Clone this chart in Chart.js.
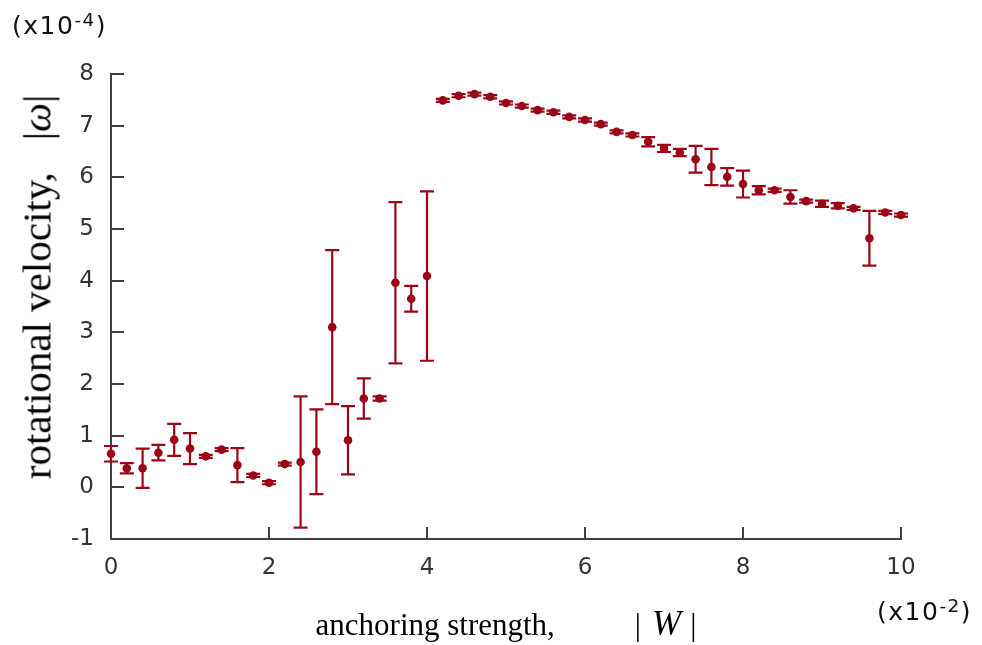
<!DOCTYPE html>
<html lang="en">
<head>
<meta charset="UTF-8">
<title>Rotational velocity vs anchoring strength</title>
<script src="https://cdn.jsdelivr.net/npm/chart.js"></script>
<style>
  body { margin: 0; background: #fff; }
  #wrap { position: relative; width: 982px; height: 645px; overflow: hidden; }
  #plot { position: absolute; left: 0; top: 0; }
  .mult { position: absolute; font-family: "DejaVu Sans", sans-serif; font-size: 25px; letter-spacing: 1.5px; line-height: 1; color: #111; white-space: nowrap; }
  .mult .sup { position: relative; top: -0.45em; font-size: 0.74em; }
  .title { position: absolute; font-family: "Liberation Serif", "Times New Roman", serif; line-height: 1; color: #000; white-space: nowrap; }
  #xTitle { left: 506px; top: 606px; font-size: 31px; transform: translateX(-50%); }
  #xTitle .abs { margin-left: 80px; }
  #xTitle .sym { font-size: 35px; margin: 0 9px 0 11px; }
  #yTitle { left: 37px; top: 287px; font-size: 41px; transform: translate(-50%, -50%) rotate(-90deg); }
  #yTitle .abs { margin-left: 32px; }
</style>
</head>
<body>
<div id="wrap">
  <canvas id="plot" width="982" height="645"></canvas>
  <div class="mult" style="left:12px; top:13px;">(x10<span class="sup">-4</span>)</div>
  <div class="mult" style="left:877px; top:599px;">(x10<span class="sup">-2</span>)</div>
  <div class="title" id="xTitle">anchoring strength,<span class="abs">|</span><i class="sym">W</i>|</div>
  <div class="title" id="yTitle">rotational velocity,<span class="abs">|<i>&omega;</i>|</span></div>
</div>

<script>
  // anchoring strength |W| (x10^-2), low-W branch
  const xLeft = [0.0, 0.2, 0.4, 0.6, 0.8, 1.0, 1.2, 1.4, 1.6, 1.8, 2.0,
                 2.2, 2.4, 2.6, 2.8, 3.0, 3.2, 3.4, 3.6, 3.8, 4.0];
  // rotational velocity |omega| (x10^-4) and its error
  const yLeft = [0.65, 0.37, 0.37, 0.67, 0.92, 0.75, 0.60, 0.73, 0.43, 0.23, 0.09,
                 0.45, 0.49, 0.69, 3.10, 0.91, 1.72, 1.72, 3.96, 3.65, 4.09];
  const errLeft = [0.15, 0.10, 0.38, 0.15, 0.31, 0.30, 0.03, 0.03, 0.33, 0.03, 0.03,
                   0.03, 1.27, 0.82, 1.49, 0.66, 0.39, 0.04, 1.56, 0.25, 1.64];

  // high-W branch
  const xRight = [4.2, 4.4, 4.6, 4.8, 5.0, 5.2, 5.4, 5.6, 5.8, 6.0,
                  6.2, 6.4, 6.6, 6.8, 7.0, 7.2, 7.4, 7.6, 7.8, 8.0,
                  8.2, 8.4, 8.6, 8.8, 9.0, 9.2, 9.4, 9.6, 9.8, 10.0];
  const yRight = [7.49, 7.58, 7.61, 7.56, 7.44, 7.38, 7.30, 7.26, 7.17, 7.11,
                  7.03, 6.88, 6.82, 6.69, 6.56, 6.48, 6.35, 6.20, 6.01, 5.87,
                  5.75, 5.75, 5.62, 5.54, 5.49, 5.45, 5.40, 4.82, 5.32, 5.27];
  const errRight = [0.03, 0.03, 0.03, 0.03, 0.03, 0.03, 0.03, 0.03, 0.03, 0.03,
                    0.03, 0.03, 0.03, 0.09, 0.07, 0.07, 0.26, 0.35, 0.17, 0.26,
                    0.08, 0.03, 0.13, 0.03, 0.06, 0.05, 0.03, 0.53, 0.03, 0.03];

  const xTicks = [0, 2, 4, 6, 8, 10];
  const yTicks = [-1, 0, 1, 2, 3, 4, 5, 6, 7, 8];

  const RED = '#9c0517';
  const AXIS = '#404040';

  function toPoints(xs, ys, es) {
    return xs.map((x, i) => ({ x: x, y: ys[i], err: es[i] }));
  }

  // vertical error bars with caps, drawn under the dots
  const errorBars = {
    id: 'errorBars',
    beforeDatasetsDraw(chart) {
      const { ctx, scales: { x, y } } = chart;
      ctx.save();
      ctx.strokeStyle = RED;
      ctx.lineWidth = 2.2;
      chart.data.datasets.forEach(ds => {
        ds.data.forEach(p => {
          const px = x.getPixelForValue(p.x);
          const top = y.getPixelForValue(p.y + p.err);
          const bot = y.getPixelForValue(p.y - p.err);
          ctx.beginPath();
          ctx.moveTo(px, top); ctx.lineTo(px, bot);
          ctx.moveTo(px - 7, top); ctx.lineTo(px + 7, top);
          ctx.moveTo(px - 7, bot); ctx.lineTo(px + 7, bot);
          ctx.stroke();
        });
      });
      ctx.restore();
    }
  };

  // tick marks pointing into the plot area
  const innerTicks = {
    id: 'innerTicks',
    beforeDatasetsDraw(chart) {
      const { ctx, chartArea: a, scales: { x, y } } = chart;
      ctx.save();
      ctx.strokeStyle = AXIS;
      ctx.lineWidth = 2;
      ctx.beginPath();
      y.ticks.forEach(t => {
        const py = Math.round(y.getPixelForValue(t.value));
        ctx.moveTo(a.left, py); ctx.lineTo(a.left + 13, py);
      });
      x.ticks.forEach(t => {
        const px = Math.round(x.getPixelForValue(t.value));
        ctx.moveTo(px, a.bottom); ctx.lineTo(px, a.bottom - 12);
      });
      ctx.stroke();
      ctx.restore();
    }
  };

  const tickFont = { family: 'DejaVu Sans', size: 23 };

  new Chart(document.getElementById('plot'), {
    type: 'scatter',
    data: {
      datasets: [
        { data: toPoints(xLeft, yLeft, errLeft), backgroundColor: RED, borderWidth: 0, pointRadius: 4.3, clip: false },
        { data: toPoints(xRight, yRight, errRight), backgroundColor: RED, borderWidth: 0, pointRadius: 4.3, clip: false }
      ]
    },
    options: {
      responsive: false,
      animation: false,
      layout: { padding: { left: 0, top: 74, right: 81, bottom: 0 } },
      plugins: { legend: { display: false }, tooltip: { enabled: false } },
      scales: {
        x: {
          type: 'linear', min: 0, max: 10,
          afterFit: s => { s.height = 106; },
          afterBuildTicks: s => { s.ticks = xTicks.map(v => ({ value: v })); },
          grid: { display: true, drawOnChartArea: false, drawTicks: false },
          border: { display: true, color: AXIS, width: 2 },
          ticks: { padding: 15, color: '#333', font: tickFont, maxRotation: 0 }
        },
        y: {
          type: 'linear', min: -1, max: 8,
          afterFit: s => { s.width = 111; },
          afterBuildTicks: s => { s.ticks = yTicks.map(v => ({ value: v })); },
          grid: { display: true, drawOnChartArea: false, drawTicks: false },
          border: { display: true, color: AXIS, width: 2 },
          ticks: { padding: 17, color: '#333', font: tickFont }
        }
      }
    },
    plugins: [innerTicks, errorBars]
  });
</script>
</body>
</html>
